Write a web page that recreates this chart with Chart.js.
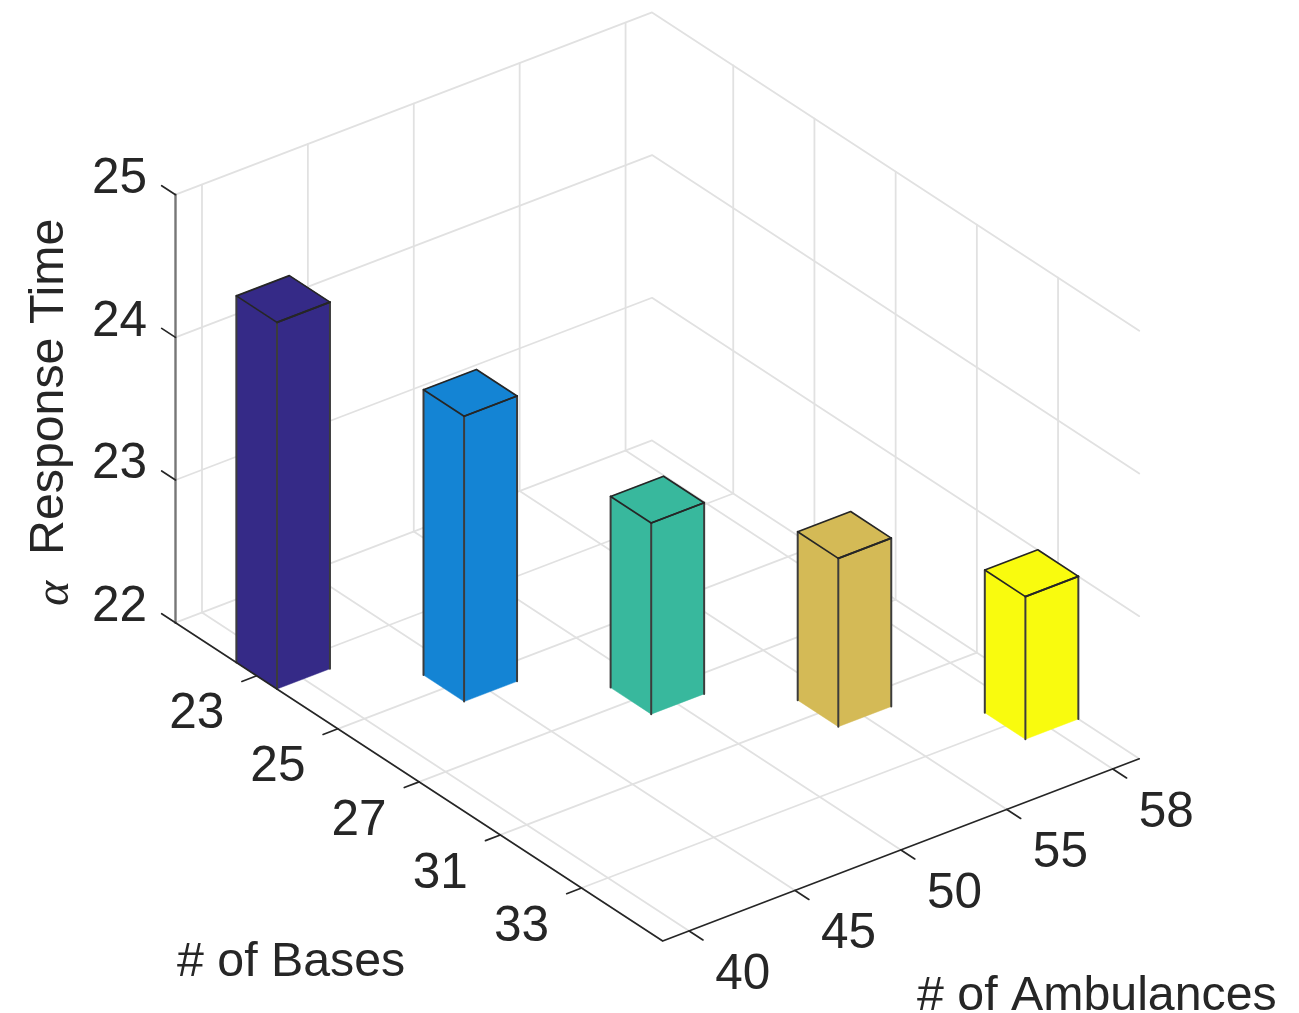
<!DOCTYPE html>
<html>
<head>
<meta charset="utf-8">
<style>html,body{margin:0;padding:0;background:#fff}canvas{display:block}</style>
<script src="https://cdn.jsdelivr.net/npm/chart.js@4/dist/chart.umd.min.js"></script>
</head>
<body>
<canvas id="c" width="1299" height="1013"></canvas>
<script>
const bases = ['23', '25', '27', '31', '33'];
const ambulances = ['40', '45', '50', '55', '58'];
const responseTime = [24.57, 24.0, 23.34, 23.18, 23.0];
const zTicks = [22, 23, 24, 25];
const barColors = ['#352a87', '#1484d4', '#38b89d', '#d4ba56', '#f9fb0e'];

// oblique view: pixels per base step / ambulance step / response-time unit
const W = 1299, H = 1013, ORIGIN_X = 175.5, ORIGIN_Y = 622.7;
const U = [81.2, 53.06], V = [105.9, -40.5], ZPX = 142.667;
const B_MAX = 6, A_MAX = 4.5, A_OFF = 0.25, HALF = 0.25;
const Z0 = zTicks[0], Z1 = zTicks[zTicks.length - 1];
const yMax = Z0 + ORIGIN_Y / ZPX, yMin = Z0 - (H - ORIGIN_Y) / ZPX;
const INK = '#262626', GRID = '#e1e1e1';

// b: base position, a: ambulance position, z: value -> scale coordinates
function P(b, a, z) {
  return { x: ORIGIN_X + U[0] * b + V[0] * a, y: z - (U[1] * b + V[1] * a) / ZPX };
}
const bPos = i => i + 1;
const aPos = i => i + A_OFF;

const datasets = [];
function line(pts, color, width) {
  datasets.push({ label: 'line', data: pts, showLine: true, fill: false, borderColor: color,
    borderWidth: width, pointRadius: 0, tension: 0, order: -datasets.length, clip: false,
    borderCapStyle: 'round', borderJoinStyle: 'round' });
}
function face(pts, color, name) {
  datasets.push({ label: name, data: pts, showLine: true, fill: 'shape', backgroundColor: color,
    borderColor: color, borderWidth: 0.5, pointRadius: 0, tension: 0, order: -datasets.length, clip: false });
}

// walls and floor grid
zTicks.forEach(z => {
  line([P(0, 0, z), P(0, A_MAX, z), P(B_MAX, A_MAX, z)], GRID, 1.8);
});
ambulances.forEach((_, i) => {
  line([P(0, aPos(i), Z0), P(0, aPos(i), Z1)], GRID, 1.8);
  line([P(0, aPos(i), Z0), P(B_MAX, aPos(i), Z0)], GRID, 1.8);
});
bases.forEach((_, i) => {
  line([P(bPos(i), A_MAX, Z0), P(bPos(i), A_MAX, Z1)], GRID, 1.8);
  line([P(bPos(i), 0, Z0), P(bPos(i), A_MAX, Z0)], GRID, 1.8);
});

// bars
responseTime.forEach((v, i) => {
  const b = bPos(i), a = aPos(i), c = barColors[i], n = bases[i] + '/' + ambulances[i];
  const L = z => P(b - HALF, a - HALF, z), F = z => P(b + HALF, a - HALF, z);
  const R = z => P(b + HALF, a + HALF, z), K = z => P(b - HALF, a + HALF, z);
  face([L(Z0), F(Z0), F(v), L(v), L(Z0)], c, n);
  face([F(Z0), R(Z0), R(v), F(v), F(Z0)], c, n);
  face([L(v), F(v), R(v), K(v), L(v)], c, n);
  line([L(Z0), L(v)], '#3c3c3c', 2);
  line([F(Z0), F(v)], '#3c3c3c', 2);
  line([R(Z0), R(v)], '#3c3c3c', 2);
  line([L(v), F(v), R(v), K(v), L(v)], INK, 1.7);
  line([F(v), R(v)], INK, 1.7);
});

// axes and tick marks
line([P(0, 0, Z0), P(0, 0, Z1)], '#777777', 2.4);
line([P(0, 0, Z0), P(B_MAX, 0, Z0), P(B_MAX, A_MAX, Z0)], INK, 1.7);
zTicks.forEach(z => line([P(0, 0, z), P(-0.17, 0, z)], INK, 1.7));
bases.forEach((_, i) => line([P(bPos(i), 0, Z0), P(bPos(i), -0.14, Z0)], INK, 1.7));
ambulances.forEach((_, i) => line([P(B_MAX, aPos(i), Z0), P(B_MAX + 0.17, aPos(i), Z0)], INK, 1.7));

const TICK_FONT = '49.5px "Liberation Sans"';
const TITLE_FONT = '48.3px "Liberation Sans"';

const textPlugin = {
  id: 'text3d',
  afterDraw(chart) {
    const { ctx, scales: { x, y } } = chart;
    const px = p => [x.getPixelForValue(p.x), y.getPixelForValue(p.y)];
    ctx.save();
    ctx.fillStyle = INK;
    ctx.textAlign = 'center';
    ctx.textBaseline = 'middle';
    ctx.font = TICK_FONT;
    bases.forEach((t, i) => {
      const [a, b] = px(P(bPos(i), 0, Z0));
      ctx.fillText(t, a - 60, b + 39);
    });
    ambulances.forEach((t, i) => {
      const [a, b] = px(P(B_MAX, aPos(i), Z0));
      ctx.fillText(t, a + 53.5, b + 44);
    });
    ctx.font = TITLE_FONT;
    ctx.textAlign = 'left';
    ctx.fillText('# of Bases', 177, 963);
    ctx.fillText('# of Ambulances', 917, 997);
    ctx.save();
    ctx.translate(50, 555);
    ctx.rotate(-Math.PI / 2);
    ctx.fillText('Response Time', 0, 0);
    ctx.font = 'italic 48px "Liberation Serif"';
    ctx.fillText('\u03B1', -51, 5);
    ctx.restore();
    ctx.restore();
  }
};

new Chart(document.getElementById('c'), {
  type: 'scatter',
  data: { datasets },
  plugins: [textPlugin],
  options: {
    responsive: false,
    animation: false,
    layout: { padding: 0 },
    plugins: { legend: { display: false }, tooltip: { enabled: false } },
    scales: {
      x: { type: 'linear', display: false, min: ORIGIN_X, max: W },
      y: {
        type: 'linear', min: yMin, max: yMax,
        afterBuildTicks: s => { s.ticks = zTicks.map(v => ({ value: v })); },
        afterFit: s => {
          s.width = ORIGIN_X;
          s.paddingTop = 0; s.paddingBottom = 0;
          if (s._margins) { s._margins.top = 0; s._margins.bottom = 0; }
        },
        border: { display: false },
        grid: { drawOnChartArea: false, drawTicks: false },
        ticks: { autoSkip: false, padding: 28.5, labelOffset: -15.5, color: INK,
          font: { family: '"Liberation Sans"', size: 49.5 }, maxRotation: 0, minRotation: 0,
          callback: v => String(v) }
      }
    }
  }
});
</script>
</body>
</html>
